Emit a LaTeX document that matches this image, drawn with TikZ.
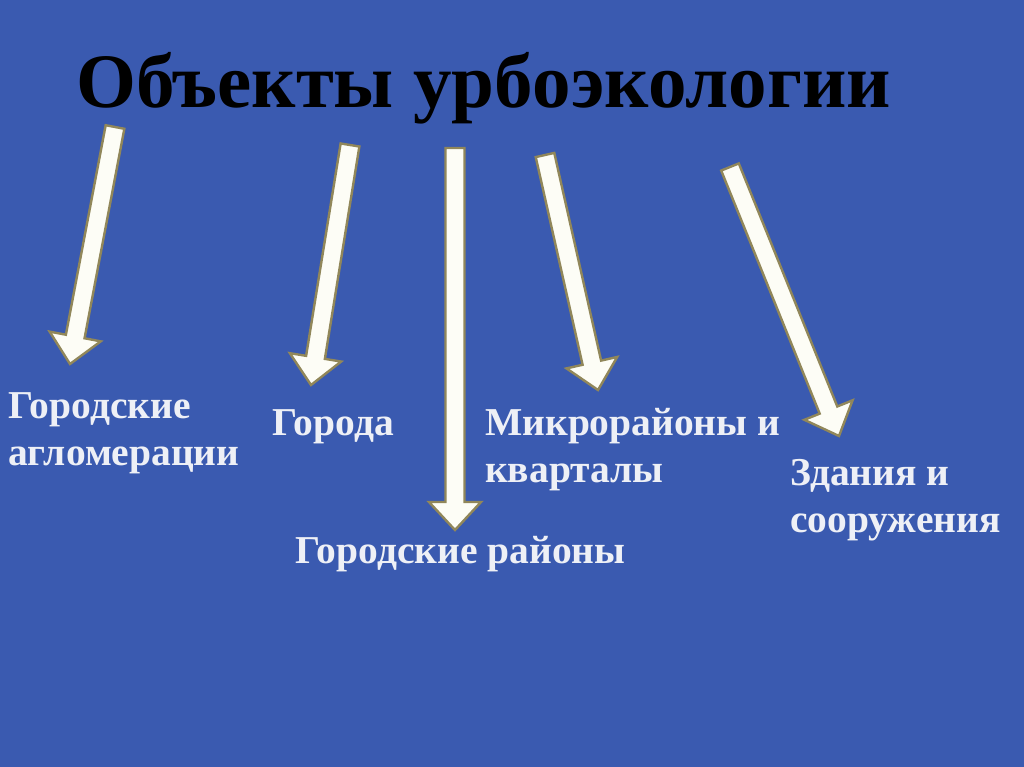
\documentclass[tikz,border=0pt]{standalone}
\usepackage{fontspec}
\setmainfont{Liberation Serif}
\usetikzlibrary{calc}

\definecolor{fon}{RGB}{58,90,176}
\definecolor{obvod}{RGB}{145,135,90}
\definecolor{vypln}{RGB}{253,253,246}
\definecolor{popis}{RGB}{238,240,246}

% blokova sipka: #1 zacatek, #2 hrot
\newcommand\blokstrelka[2]{%
  \coordinate (H) at ($(#2)!28pt!(#1)$);
  \draw[strelka] ($(#1)!9.5pt!90:(#2)$) -- ($(H)!9.5pt!-90:(#1)$)
    -- ($(H)!26pt!-90:(#1)$) -- (#2) -- ($(H)!26pt!90:(#1)$)
    -- ($(H)!9.5pt!90:(#1)$) -- ($(#1)!9.5pt!-90:(#2)$) -- cycle;
}

\begin{document}
\begin{tikzpicture}[x=1pt,y=-1pt,
    strelka/.style={fill=vypln, draw=obvod, line width=2.4pt, line join=miter},
    popisek/.style={text=popis, font=\bfseries\fontsize{39.5}{46.5}\selectfont,
      align=left, inner sep=0pt, anchor=base west}]

        % pozadi
        \fill[fon] (0,0) rectangle (1024,767);
        \useasboundingbox (0,0) rectangle (1024,767);

        % nadpis
        \node[font=\bfseries\fontsize{77}{90}\selectfont, inner sep=0pt, anchor=base west] (T)
            at (76,108) {Объекты урбоэкологии};

        % popisky (base = posledni radek)
        \node[popisek] (AG) at (8,465) {Городские\\агломерации};
        \node[popisek] (G) at (272,435) {Города};
        \node[popisek] (MK) at (485,482) {Микрорайоны и\\кварталы};
        \node[popisek] (ZS) at (790,532) {Здания и\\сооружения};
        \node[popisek] (R) at (295,563) {Городские районы};

        % zacatky a hroty sipek
        \coordinate (S1) at (115,127);
        \coordinate (K1) at (70,364);
        \coordinate (S2) at (350,145);
        \coordinate (K2) at (311,385);
        \coordinate (S3) at (455,148);
        \coordinate (K3) at (455,530);
        \coordinate (S4) at (545,155);
        \coordinate (K4) at (598,390);
        \coordinate (S5) at (730,167);
        \coordinate (K5) at (839,436);

        % sipky
        \blokstrelka{S1}{K1}
        \blokstrelka{S2}{K2}
        \blokstrelka{S3}{K3}
        \blokstrelka{S4}{K4}
        \blokstrelka{S5}{K5}

    \end{tikzpicture}
\end{document}
